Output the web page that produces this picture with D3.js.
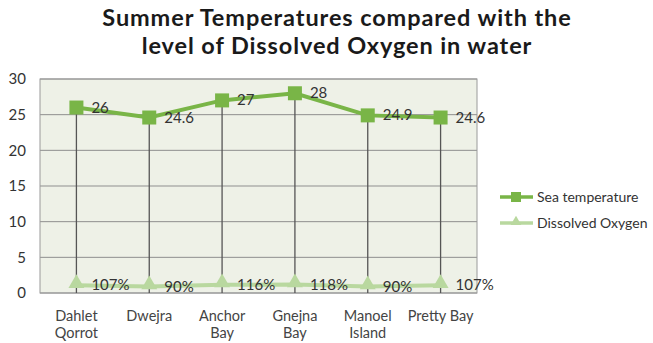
<!DOCTYPE html>
<html><head><meta charset="utf-8">
<script src="https://cdn.jsdelivr.net/npm/d3@7"></script>
<style>body{margin:0;background:#fff}svg{display:block}</style>
</head><body><svg id="c" width="653" height="343"></svg>
<script>
const categories = [["Dahlet","Qorrot"],["Dwejra"],["Anchor","Bay"],["Gnejna","Bay"],["Manoel","Island"],["Pretty Bay"]];
const seaTemperature = [26, 24.6, 27, 28, 24.9, 24.6];
const seaLabels = ["26","24.6","27","28","24.9","24.6"];
const dissolvedOxygen = [1.07, 0.90, 1.16, 1.18, 0.90, 1.07];
const oxygenLabels = ["107%","90%","116%","118%","90%","107%"];
const yTicks = [0,5,10,15,20,25,30];
const seriesNames = ["Sea temperature","Dissolved Oxygen"];
const titleLines = ["Summer Temperatures compared with the","level of Dissolved Oxygen in water"];

const svg = d3.select("#c");
const F = "Lato, 'Open Sans', sans-serif";
const m = {l:40, r:477, t:79, b:293};
const x = d3.scaleBand().domain(d3.range(categories.length)).range([m.l, m.r]);
const cx = i => x(i) + x.bandwidth()/2;
const y = d3.scaleLinear().domain([0,30]).range([m.b, m.t]);
const tempColor = "#79b547", oxyColor = "#b9d89f";

// title
const title = svg.append("g");
titleLines.forEach((t,i)=>{
  title.append("text").attr("x",337).attr("y",26+i*28).attr("text-anchor","middle")
    .attr("font-family",F).attr("font-weight","bold").attr("font-size",23.5).attr("letter-spacing",0.9).attr("fill","#1a1a1a").text(t);
});

// plot bg
svg.append("rect").attr("x",m.l).attr("y",m.t).attr("width",m.r-m.l).attr("height",m.b-m.t).attr("fill","#eef1e7");
// grid
svg.append("g").selectAll("line").data(yTicks).join("line")
  .attr("x1",m.l).attr("x2",m.r).attr("y1",d=>y(d)).attr("y2",d=>y(d)).attr("stroke","#8f8f8f").attr("stroke-width",1);
svg.append("rect").attr("x",m.l).attr("y",m.t).attr("width",m.r-m.l).attr("height",m.b-m.t).attr("fill","none").attr("stroke","#9a9a9a");

// y axis
const ya = svg.append("g").attr("transform",`translate(${m.l},0)`).call(d3.axisLeft(y).tickValues(yTicks).tickSize(0).tickPadding(14));
ya.select(".domain").remove();
ya.selectAll("text").attr("font-family",F).attr("font-size",15).attr("fill","#333");

// x labels
const xl = svg.append("g");
categories.forEach((c,i)=>{
  const t = xl.append("text").attr("x",cx(i)).attr("y",321).attr("text-anchor","middle")
    .attr("font-family",F).attr("font-size",14.5).attr("fill","#444");
  c.forEach((line,j)=>t.append("tspan").attr("x",cx(i)).attr("dy",j?17:0).text(line));
});

// drop lines
svg.append("g").selectAll("line").data(seaTemperature).join("line")
  .attr("x1",(d,i)=>cx(i)).attr("x2",(d,i)=>cx(i)).attr("y1",d=>y(d)).attr("y2",m.b)
  .attr("stroke","#555").attr("stroke-width",1.3);

// oxygen line
const line = d3.line().x((d,i)=>cx(i)).y(d=>y(d));
svg.append("path").datum(dissolvedOxygen).attr("d",line).attr("fill","none").attr("stroke",oxyColor).attr("stroke-width",4);
const tri = d3.symbol().type(d3.symbolTriangle).size(110);
svg.append("g").selectAll("path").data(dissolvedOxygen).join("path")
  .attr("transform",(d,i)=>`translate(${cx(i)},${y(d)-2})`).attr("d",tri).attr("fill",oxyColor);

// temp line
svg.append("path").datum(seaTemperature).attr("d",line).attr("fill","none").attr("stroke",tempColor).attr("stroke-width",4);
svg.append("g").selectAll("rect").data(seaTemperature).join("rect")
  .attr("x",(d,i)=>cx(i)-7).attr("y",d=>y(d)-7).attr("width",14).attr("height",14).attr("fill",tempColor);

// labels
svg.append("g").selectAll("text").data(seaTemperature).join("text")
  .attr("x",(d,i)=>cx(i)+15).attr("y",d=>y(d)+5).attr("font-family",F).attr("font-size",15).attr("fill","#333")
  .text((d,i)=>seaLabels[i]);
svg.append("g").selectAll("text").data(dissolvedOxygen).join("text")
  .attr("x",(d,i)=>cx(i)+15).attr("y",d=>y(d)+5).attr("font-family",F).attr("font-size",15).attr("fill","#333")
  .text((d,i)=>oxygenLabels[i]);

// legend
const lg = svg.append("g");
[[tempColor,"sq"],[oxyColor,"tri"]].forEach(([col,mk],i)=>{
  const yy = 197 + i*26;
  lg.append("line").attr("x1",500).attr("x2",533).attr("y1",yy).attr("y2",yy).attr("stroke",col).attr("stroke-width",3.5);
  if(mk==="sq") lg.append("rect").attr("x",511).attr("y",yy-5).attr("width",10).attr("height",10).attr("fill",col);
  else lg.append("path").attr("transform",`translate(516,${yy-1})`).attr("d",d3.symbol().type(d3.symbolTriangle).size(50)).attr("fill",col);
  lg.append("text").attr("x",537).attr("y",yy+5).attr("font-family",F).attr("font-size",14).attr("fill","#333").text(seriesNames[i]);
});
</script></body></html>
